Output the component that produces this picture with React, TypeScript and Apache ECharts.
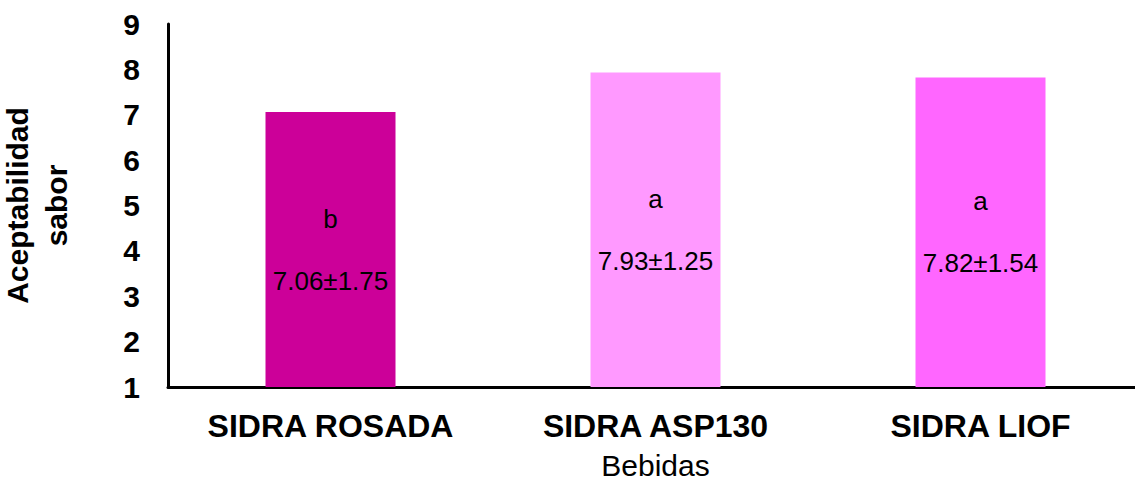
import React, { useEffect, useRef } from "react";
import * as echarts from "echarts";

const categories = ["SIDRA ROSADA", "SIDRA ASP130", "SIDRA LIOF"];
const means = [7.06, 7.93, 7.82];
const sds = [1.75, 1.25, 1.54];
const letters = ["b", "a", "a"];
const colors = ["#CC0099", "#FF99FF", "#FF66FF"];
const yTicks = { min: 1, max: 9, interval: 1 };

const FONT = "'Liberation Sans', Arial, sans-serif";

export default function App() {
  const ref = useRef<HTMLDivElement>(null);
  useEffect(() => {
    if (!ref.current) return;
    const chart = echarts.init(ref.current, null, { renderer: "svg" });
    chart.setOption({
      animation: false,
      backgroundColor: "#ffffff",
      textStyle: { fontFamily: FONT },
      grid: {
        left: 168,
        right: -8,
        top: 24,
        bottom: 98,
        containLabel: false,
        outerBoundsMode: "none",
      },
      xAxis: {
        type: "category",
        data: categories,
        name: "Bebidas",
        nameLocation: "middle",
        nameGap: 64,
        nameTextStyle: { fontSize: 30, lineHeight: 28, color: "#000", fontFamily: FONT },
        axisLine: { lineStyle: { color: "#000", width: 3 } },
        axisTick: { show: false },
        axisLabel: {
          interval: 0,
          hideOverlap: false,
          fontSize: 32,
          fontWeight: "bold",
          color: "#000",
          margin: 23,
          fontFamily: FONT,
        },
      },
      yAxis: {
        type: "value",
        min: yTicks.min,
        max: yTicks.max,
        interval: yTicks.interval,
        startValue: 1,
        name: "Aceptabilidad\nsabor",
        nameLocation: "middle",
        nameRotate: 90,
        nameGap: 92,
        nameTextStyle: {
          fontSize: 30,
          fontWeight: "bold",
          color: "#000",
          lineHeight: 39,
          fontFamily: FONT,
        },
        axisLine: { show: true, lineStyle: { color: "#000", width: 3 } },
        axisTick: { show: false },
        splitLine: { show: false },
        axisLabel: {
          fontSize: 30,
          fontWeight: "bold",
          color: "#000",
          margin: 28,
          fontFamily: FONT,
        },
      },
      series: [
        {
          type: "bar",
          barWidth: "40%",
          data: means.map((v, i) => ({ value: v, itemStyle: { color: colors[i] } })),
          label: {
            show: true,
            position: "inside",
            fontSize: 26,
            lineHeight: 31,
            color: "#000",
            fontFamily: FONT,
            formatter: (p: any) =>
              `${letters[p.dataIndex]}\n\n${means[p.dataIndex].toFixed(2)}±${sds[p.dataIndex].toFixed(2)}`,
          },
        },
      ],
    });
    return () => chart.dispose();
  }, []);
  return (
    <div
      ref={ref}
      style={{ position: "absolute", left: 0, top: 0, width: 1135, height: 485 }}
    />
  );
}
